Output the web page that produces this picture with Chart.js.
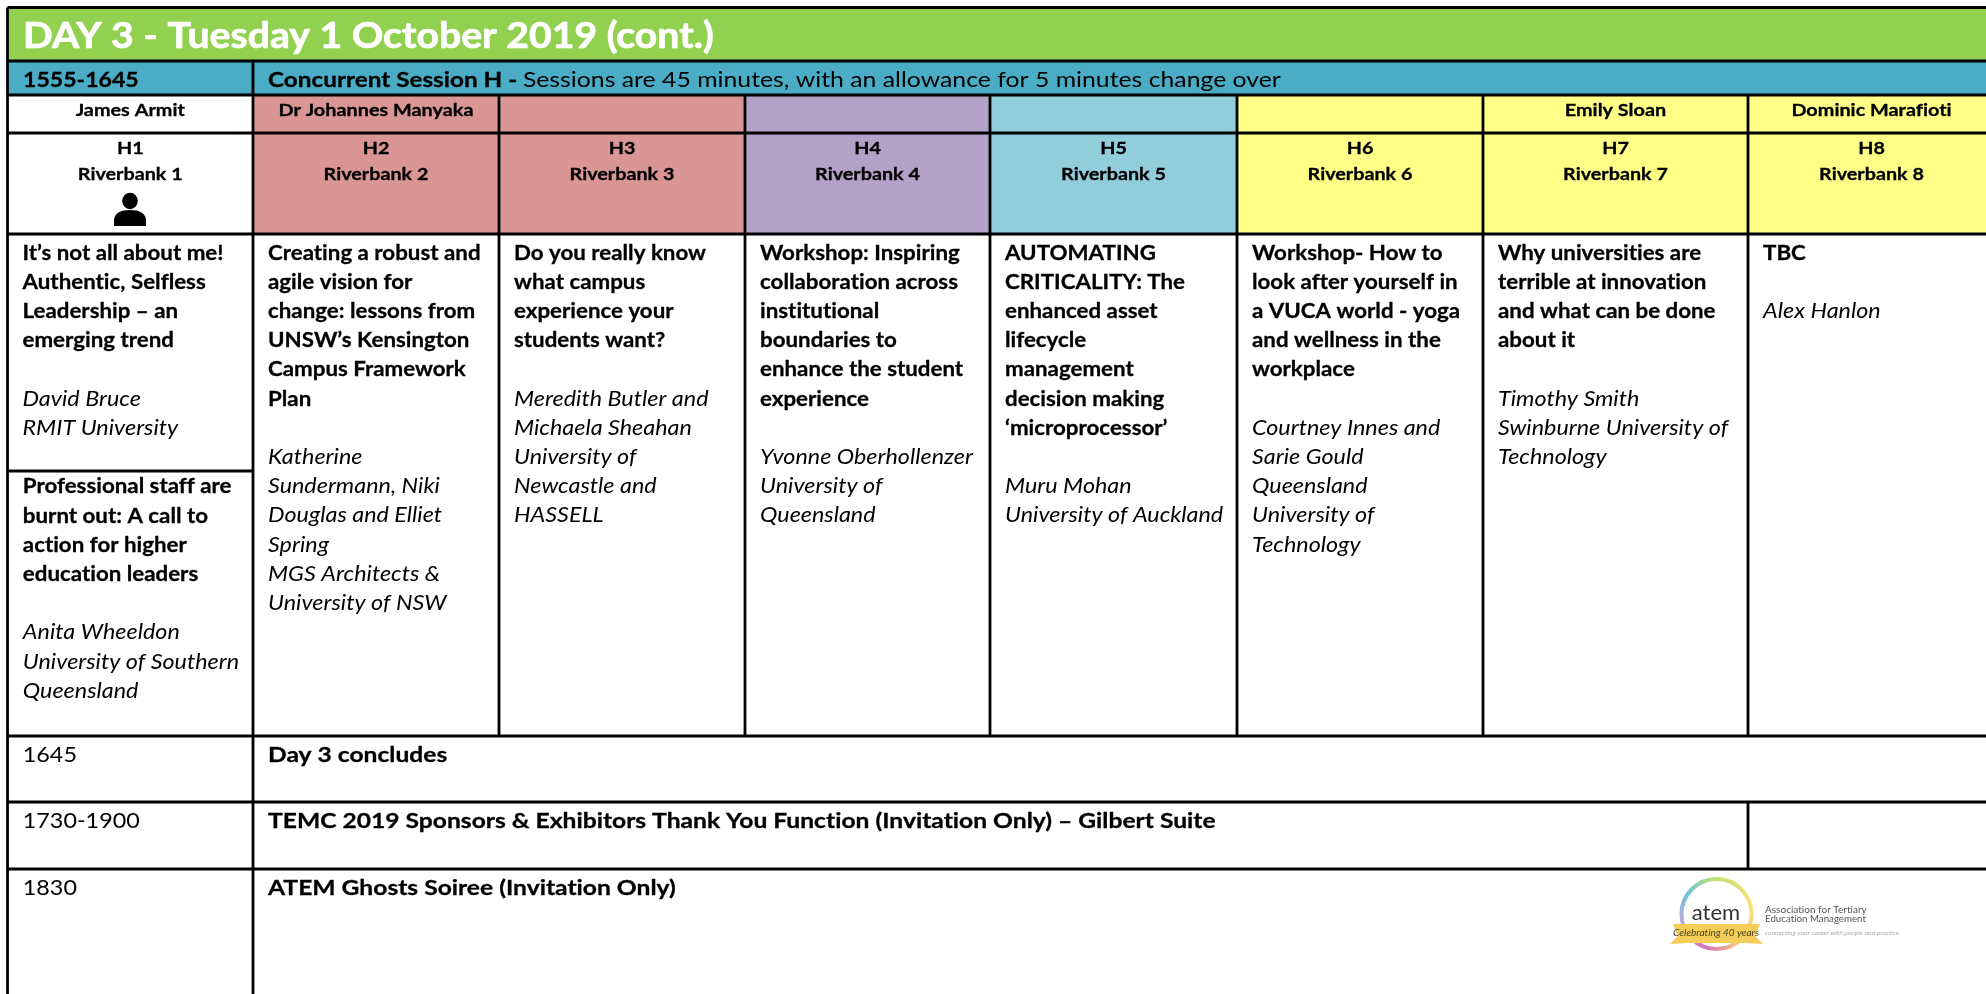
<!DOCTYPE html>
<html>
<head>
<meta charset="utf-8">
<title>DAY 3 - Tuesday 1 October 2019 (cont.)</title>
<script src="https://cdn.jsdelivr.net/npm/chart.js@4"></script>
<style>
  html, body { margin: 0; padding: 0; background: #fff; overflow: hidden; }
  canvas { display: block; }
</style>
</head>
<body>
<canvas id="programme" width="1986" height="994"></canvas>
<script>
// ----- table content
const dayTitle = 'DAY 3 - Tuesday 1 October 2019 (cont.)';
const sessionTime = '1555-1645';
const sessionName = 'Concurrent Session H - ';
const sessionNote = 'Sessions are 45 minutes, with an allowance for 5 minutes change over';
const chairs = ['James Armit', 'Dr Johannes Manyaka', '', '', '', '', 'Emily Sloan', 'Dominic Marafioti'];
const streams = ['H1', 'H2', 'H3', 'H4', 'H5', 'H6', 'H7', 'H8'];
const rooms = ['Riverbank 1', 'Riverbank 2', 'Riverbank 3', 'Riverbank 4', 'Riverbank 5', 'Riverbank 6', 'Riverbank 7', 'Riverbank 8'];
const talkTitles = [
  ['It’s not all about me!', 'Authentic, Selfless', 'Leadership – an', 'emerging trend'],
  ['Creating a robust and', 'agile vision for', 'change: lessons from', 'UNSW’s Kensington', 'Campus Framework', 'Plan'],
  ['Do you really know', 'what campus', 'experience your', 'students want?'],
  ['Workshop: Inspiring', 'collaboration across', 'institutional', 'boundaries to', 'enhance the student', 'experience'],
  ['AUTOMATING', 'CRITICALITY: The', 'enhanced asset', 'lifecycle', 'management', 'decision making', '‘microprocessor’'],
  ['Workshop- How to', 'look after yourself in', 'a VUCA world - yoga', 'and wellness in the', 'workplace'],
  ['Why universities are', 'terrible at innovation', 'and what can be done', 'about it'],
  ['TBC']
];
const talkSpeakers = [
  ['David Bruce', 'RMIT University'],
  ['Katherine', 'Sundermann, Niki', 'Douglas and Elliet', 'Spring', 'MGS Architects &', 'University of NSW'],
  ['Meredith Butler and', 'Michaela Sheahan', 'University of', 'Newcastle and', 'HASSELL'],
  ['Yvonne Oberhollenzer', 'University of', 'Queensland'],
  ['Muru Mohan', 'University of Auckland'],
  ['Courtney Innes and', 'Sarie Gould', 'Queensland', 'University of', 'Technology'],
  ['Timothy Smith', 'Swinburne University of', 'Technology'],
  ['Alex Hanlon']
];
const secondTitle = ['Professional staff are', 'burnt out: A call to', 'action for higher', 'education leaders'];
const secondSpeakers = ['Anita Wheeldon', 'University of Southern', 'Queensland'];
const laterTimes = ['1645', '1730-1900', '1830'];
const laterEvents = [
  'Day 3 concludes',
  'TEMC 2019 Sponsors & Exhibitors Thank You Function (Invitation Only) – Gilbert Suite',
  'ATEM Ghosts Soiree (Invitation Only)'
];

// ----- layout
const W = 1986, H = 994;
const colEdges = [7.5, 253, 499, 745, 990, 1237, 1483, 1748, 1995];
const streamFill = ['#FFFFFF', '#D99694', '#D99694', '#B2A2C7', '#92CDDC', '#FFFF88', '#FFFF88', '#FFFF88'];
const hLines = [[7.5, W, 7.5], [7.5, W, 61], [7.5, W, 95], [7.5, W, 133], [7.5, W, 234], [7.5, 253, 471], [7.5, W, 736], [7.5, W, 802], [7.5, W, 869]];
const vLines = [[7.5, 7.5, H], [253, 61, H], [499, 95, 736], [745, 95, 736], [990, 95, 736], [1237, 95, 736], [1483, 95, 736], [1748, 95, 736], [1748, 802, 869]];

function cell(x0, x1, y0, y1, color) {
  return {
    type: 'bar',
    data: [{ x: (x0 + x1) / 2, y: [y0, y1] }],
    backgroundColor: color,
    barThickness: x1 - x0,
    grouped: false,
    borderWidth: 0,
    order: 2
  };
}
function rule(x0, y0, x1, y1) {
  return {
    type: 'line',
    data: [{ x: x0, y: y0 }, { x: x1, y: y1 }],
    borderColor: '#000',
    borderWidth: 2.8,
    pointRadius: 0,
    order: 1
  };
}

const datasets = [cell(7.5, W, 7.5, 61, '#92D050'), cell(7.5, W, 61, 95, '#4BACC6')];
streamFill.forEach(function (c, i) {
  datasets.push(cell(colEdges[i], colEdges[i + 1], 95, 234, c));
});
hLines.forEach(function (l) { datasets.push(rule(l[0], l[2], l[1], l[2])); });
vLines.forEach(function (l) { datasets.push(rule(l[0], l[1], l[0], l[2])); });

// ----- text on canvas
// Lato is the closest installed face, it gets stretched a bit to fill the same width
const FACE = 'Lato, sans-serif';
const BOLD = 'bold 21.3px ' + FACE;
const PLAIN = '21.3px ' + FACE;
const ITALIC = 'italic 21.3px ' + FACE;
const HEAD = 'bold 17.8px ' + FACE;
const LINE = 29.2;

function put(ctx, text, x, y, font, stretch, color, align) {
  ctx.save();
  ctx.font = font;
  ctx.letterSpacing = '0.01px'; // stops the ti / fi ligatures
  ctx.fillStyle = color || '#000';
  ctx.textAlign = align || 'left';
  ctx.textBaseline = 'alphabetic';
  ctx.translate(x, y);
  ctx.scale(stretch || 1, 1);
  ctx.fillText(text, 0, 0);
  if (font.indexOf('bold') === 0) {
    // the reference bold is a little heavier
    ctx.strokeStyle = ctx.fillStyle;
    ctx.lineWidth = font === BOLD || font === HEAD ? 0.3 : 0.7;
    ctx.strokeText(text, 0, 0);
  }
  ctx.restore();
}

function drawPerson(ctx) {
  ctx.fillStyle = '#000';
  ctx.beginPath();
  ctx.ellipse(130, 201, 7.8, 8.2, 0, 0, Math.PI * 2);
  ctx.fill();
  ctx.beginPath();
  ctx.moveTo(114, 226);
  ctx.lineTo(114, 219);
  ctx.quadraticCurveTo(116, 210, 130, 210);
  ctx.quadraticCurveTo(144, 210, 146, 219);
  ctx.lineTo(146, 226);
  ctx.closePath();
  ctx.fill();
}

function drawLogo(ctx) {
  const cx = 1716.5, cy = 914;
  ctx.save();
  ctx.filter = 'blur(0.5px)';
  const ring = ctx.createConicGradient(-Math.PI / 2, cx, cy);
  ring.addColorStop(0, '#c4e06e');
  ring.addColorStop(0.2, '#f9e27c');
  ring.addColorStop(0.4, '#f8c47c');
  ring.addColorStop(0.55, '#d873bd');
  ring.addColorStop(0.7, '#c4a6e2');
  ring.addColorStop(0.85, '#6cc6d8');
  ring.addColorStop(1, '#c4e06e');
  ctx.strokeStyle = ring;
  ctx.lineWidth = 4;
  ctx.beginPath();
  ctx.arc(cx, cy, 35, 0, Math.PI * 2);
  ctx.stroke();
  // ribbon
  ctx.fillStyle = '#F4CE58';
  ctx.beginPath();
  ctx.moveTo(1670, 944);
  ctx.lineTo(1678, 936);
  ctx.lineTo(1673, 924);
  ctx.lineTo(1760, 924);
  ctx.lineTo(1755, 936);
  ctx.lineTo(1763, 944);
  ctx.lineTo(1745, 943);
  ctx.lineTo(1688, 943);
  ctx.closePath();
  ctx.fill();
  ctx.restore();
  put(ctx, 'atem', 1716, 920, '21px ' + FACE, 1.05, '#333', 'center');
  put(ctx, 'Celebrating 40 years', 1716, 936, 'italic 10px ' + FACE, 1, '#4a4320', 'center');
  put(ctx, 'Association for Tertiary', 1765, 912.5, '10px ' + FACE, 1, '#555');
  put(ctx, 'Education Management', 1765, 922, '10px ' + FACE, 0.97, '#555');
  put(ctx, 'connecting your career with people and practice', 1765, 935, 'italic 6px ' + FACE, 1.12, '#aaa');
}

const tableText = {
  id: 'tableText',
  afterDatasetsDraw(chart) {
    const ctx = chart.ctx;
    put(ctx, dayTitle, 23, 48, 'bold 36px ' + FACE, 1.088, '#fff');
    put(ctx, sessionTime, 23, 87, BOLD, 1.083);
    put(ctx, sessionName, 268, 87, BOLD, 1.14);
    ctx.font = BOLD;
    const w = ctx.measureText(sessionName).width * 1.14;
    put(ctx, sessionNote, 268 + w, 87, PLAIN, 1.163);

    streams.forEach(function (s, i) {
      const mid = (colEdges[i] + colEdges[i + 1]) / 2;
      put(ctx, chairs[i], mid, 116, HEAD, 1.115, '#000', 'center');
      put(ctx, s, mid, 154, HEAD, 1.11, '#000', 'center');
      put(ctx, rooms[i], mid, 180, HEAD, 1.11, '#000', 'center');
    });
    drawPerson(ctx);

    talkTitles.forEach(function (lines, i) {
      const x = colEdges[i] + 15;
      let y = 259.6;
      lines.forEach(function (l) { put(ctx, l, x, y, BOLD, 1.047); y += LINE; });
      y += LINE;
      talkSpeakers[i].forEach(function (l) { put(ctx, l, x, y, ITALIC, 1.095); y += LINE; });
    });
    let y2 = 493.3;
    secondTitle.forEach(function (l) { put(ctx, l, 22.8, y2, BOLD, 1.047); y2 += LINE; });
    y2 += LINE;
    secondSpeakers.forEach(function (l) { put(ctx, l, 22.8, y2, ITALIC, 1.095); y2 += LINE; });

    const laterY = [761.7, 828, 895];
    laterTimes.forEach(function (t, i) {
      put(ctx, t, 22.8, laterY[i], PLAIN, 1.095);
      put(ctx, laterEvents[i], 268, laterY[i], BOLD, 1.155);
    });
    drawLogo(ctx);
  }
};

new Chart(document.getElementById('programme'), {
  type: 'bar',
  data: { datasets: datasets },
  options: {
    responsive: false,
    animation: false,
    layout: { padding: 0 },
    plugins: { legend: { display: false }, tooltip: { enabled: false } },
    scales: {
      x: { type: 'linear', min: 0, max: W, display: false, offset: false },
      y: { type: 'linear', min: 0, max: H, reverse: true, display: false }
    }
  },
  plugins: [tableText]
});
</script>
</body>
</html>
